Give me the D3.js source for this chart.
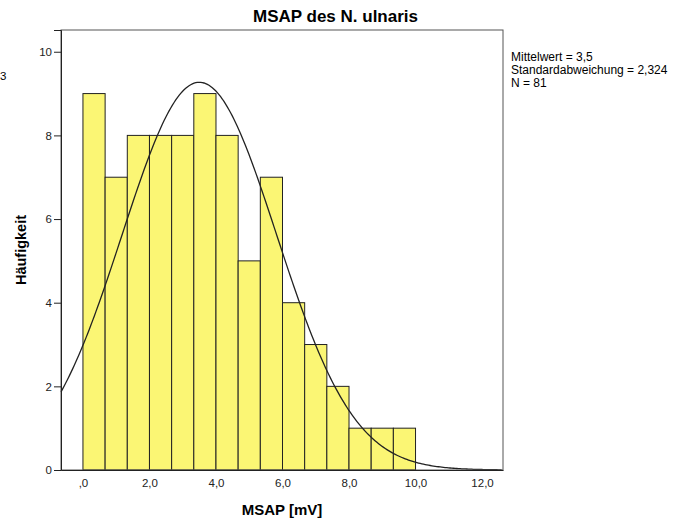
<!DOCTYPE html>
<html>
<head>
<meta charset="utf-8">
<script src="https://cdn.jsdelivr.net/npm/d3@7"></script>
<style>
  body { margin: 0; background: #fff; }
  text { font-family: "Liberation Sans", Arial, sans-serif; }
</style>
</head>
<body>
<div id="vis"></div>
<script>
// Histogram data (bin width 2/3 mV)
const BIN_STARTS = [0, 2/3, 4/3, 2, 8/3, 10/3, 4, 14/3, 16/3, 6, 20/3, 22/3, 8, 26/3, 28/3];
const BIN_WIDTH = 2 / 3;
const COUNTS = [9, 7, 8, 8, 8, 9, 8, 5, 7, 4, 3, 2, 1, 1, 1];
const X_TICKS = [0, 2, 4, 6, 8, 10, 12];
const Y_TICKS = [0, 2, 4, 6, 8, 10];
const MEAN = 3.5, SD = 2.324, N = 81;
const STATS = ["Mittelwert = 3,5", "Standardabweichung = 2,324", "N = 81"];

const WIDTH = 683;
const HEIGHT = 524;
const MARG = {left: 61, right: 180, top: 30, bottom: 54};
const VIS_WIDTH = WIDTH - MARG.left - MARG.right;
const VIS_HEIGHT = HEIGHT - MARG.top - MARG.bottom;

const svg = d3.select("#vis")
  .append("svg")
    .attr("width", WIDTH)
    .attr("height", HEIGHT);

const X_SCALE = d3.scaleLinear().domain([-0.66, 12.63]).range([0, VIS_WIDTH]);
const Y_SCALE = d3.scaleLinear().domain([0, 10.52]).range([VIS_HEIGHT, 0]);

const g = svg.append("g").attr("transform", "translate(" + MARG.left + "," + MARG.top + ")");

// bars
g.selectAll(".bar")
  .data(COUNTS)
  .enter().append("rect")
    .attr("class", "bar")
    .attr("x", (d, i) => X_SCALE(BIN_STARTS[i]))
    .attr("y", d => Y_SCALE(d))
    .attr("width", X_SCALE(BIN_WIDTH) - X_SCALE(0))
    .attr("height", d => Y_SCALE(0) - Y_SCALE(d))
    .attr("fill", "#fbf674")
    .attr("stroke", "#222")
    .attr("stroke-width", 1);

// normal curve from mean / sd / n
const curvePts = d3.range(-0.66, 12.6, 0.05).map(x => {
  const z = (x - MEAN) / SD;
  return [x, N * BIN_WIDTH / (SD * Math.sqrt(2 * Math.PI)) * Math.exp(-0.5 * z * z)];
});
g.append("path")
  .datum(curvePts)
  .attr("fill", "none")
  .attr("stroke", "#222")
  .attr("stroke-width", 1.3)
  .attr("d", d3.line().x(d => X_SCALE(d[0])).y(d => Y_SCALE(d[1])));

// frame
g.append("rect")
  .attr("width", VIS_WIDTH).attr("height", VIS_HEIGHT)
  .attr("fill", "none").attr("stroke", "#555").attr("stroke-width", 1);

// axes
const fmt = d => d === 0 ? ",0" : d.toFixed(1).replace(".", ",");
const xAxis = g.append("g")
  .attr("transform", "translate(0," + VIS_HEIGHT + ")")
  .call(d3.axisBottom(X_SCALE).tickValues(X_TICKS).tickFormat(fmt).tickSize(0).tickPadding(9));
const yAxis = g.append("g")
  .call(d3.axisLeft(Y_SCALE).tickValues(Y_TICKS).tickSize(7).tickPadding(2));
[xAxis, yAxis].forEach(a => {
  a.select(".domain").attr("stroke", "#222");
  a.selectAll(".tick line").attr("stroke", "#222");
  a.selectAll("text").attr("font-size", "11.5px").attr("fill", "#222").attr("font-family", "Liberation Sans, Arial, sans-serif");
});

// title & labels
svg.append("text")
  .attr("x", 335.5).attr("y", 22)
  .attr("text-anchor", "middle")
  .attr("font-size", "17px").attr("font-weight", "bold")
  .text("MSAP des N. ulnaris");
svg.append("text")
  .attr("x", 282).attr("y", 515)
  .attr("text-anchor", "middle")
  .attr("font-size", "15px").attr("font-weight", "bold")
  .text("MSAP [mV]");
svg.append("text")
  .attr("transform", "translate(26,250) rotate(-90)")
  .attr("text-anchor", "middle")
  .attr("font-size", "14.5px").attr("font-weight", "bold")
  .text("Häufigkeit");
svg.append("text")
  .attr("x", 0).attr("y", 80)
  .attr("font-size", "11.5px")
  .text("3");

svg.selectAll(".stat")
  .data(STATS)
  .enter().append("text")
    .attr("class", "stat")
    .attr("x", 511)
    .attr("y", (d, i) => 61 + i * 13)
    .attr("font-size", "12px")
    .text(d => d);
</script>
</body>
</html>
